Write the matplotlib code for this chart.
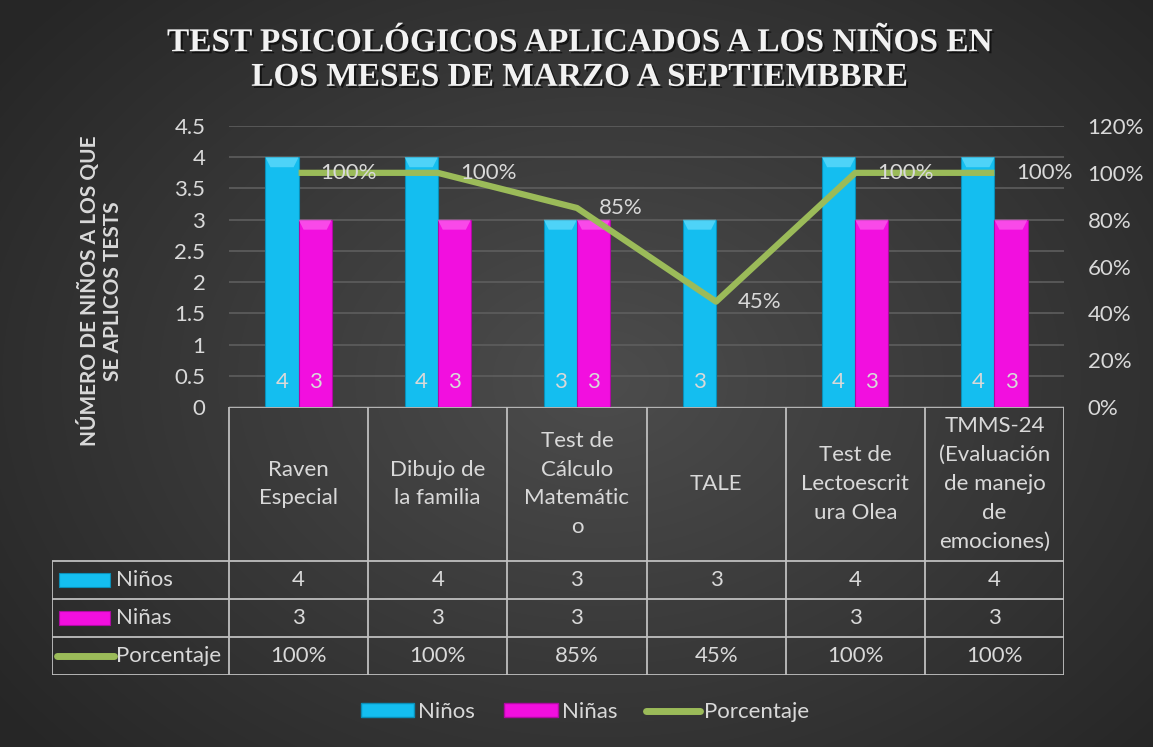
import numpy as np
import matplotlib
matplotlib.use("Agg")
import matplotlib.pyplot as plt
from matplotlib.patches import Rectangle, Patch, Polygon
from matplotlib.lines import Line2D
import matplotlib.patheffects as pe

# ---------------- data ----------------
categories = ["Raven\nEspecial", "Dibujo de\nla familia", "Test de\nCálculo\nMatemátic\no",
              "TALE", "Test de\nLectoescrit\nura Olea",
              "TMMS-24\n(Evaluación\nde manejo\nde\nemociones)"]
ninos = [4, 4, 3, 3, 4, 4]
ninas = [3, 3, 3, np.nan, 3, 3]
porcentaje = [1.00, 1.00, 0.85, 0.45, 1.00, 1.00]
series_names = ["Niños", "Niñas", "Porcentaje"]
title = "TEST PSICOLÓGICOS APLICADOS A LOS NIÑOS EN\nLOS MESES DE MARZO A SEPTIEMBBRE"
ylabel = "NÚMERO DE NIÑOS A LOS QUE\nSE APLICOS TESTS"

# ---------------- style ----------------
W, H = 1153, 747
C_NINO = "#14BEF0"
C_NINA = "#F20FDF"
C_NINO_HI = "#7FE6FF"
C_NINA_HI = "#FF7AF2"
C_NINO_ED = "#0A8FB8"
C_NINA_ED = "#B00AA3"
C_LINE = "#9BBB59"
TXT = "#D9D9D9"
GRID = "#5E5E5E"
TAB = "#BFBFBF"
FS = 16
FONT = ["Lato", "DejaVu Sans"]
plt.rcParams["font.family"] = FONT

fig = plt.figure(figsize=(W / 100, H / 100), dpi=100)

# background radial gradient
bg = fig.add_axes([0, 0, 1, 1], zorder=-10)
yy, xx = np.mgrid[0:H, 0:W]
r = np.sqrt(((xx - 600) / 700.0) ** 2 + ((yy - 380) / 520.0) ** 2)
val = np.clip(0.30 - 0.14 * r, 0.15, 0.32)
bg.imshow(np.dstack([val, val, val]), aspect="auto", extent=[0, 1, 0, 1])
bg.set_axis_off()

# ---------------- main axes ----------------
L, R, T, B = 229, 1064, 126, 407
ax = fig.add_axes([L / W, 1 - B / H, (R - L) / W, (B - T) / H])
ax.set_facecolor("none")
x = np.arange(len(categories))
bw = 0.238
b1 = ax.bar(x - bw / 2, ninos, bw, color=C_NINO, edgecolor=C_NINO_ED, linewidth=0.8, zorder=3)
b2 = ax.bar(x + bw / 2, ninas, bw, color=C_NINA, edgecolor=C_NINA_ED, linewidth=0.8, zorder=3)
ax.set_xlim(-0.5, len(categories) - 0.5)
ax.set_ylim(0, 4.5)

# bevel highlight on bar tops
bx = 5 * (len(categories)) / (R - L)
by = 10 * 4.5 / (B - T)
for bars, hi in ((b1, C_NINO_HI), (b2, C_NINA_HI)):
    for rect in bars:
        h = rect.get_height()
        if np.isnan(h):
            continue
        x0, w = rect.get_x(), rect.get_width()
        ax.add_patch(Polygon([(x0, h), (x0 + w, h), (x0 + w - bx, h - by), (x0 + bx, h - by)],
                             closed=True, facecolor=hi, edgecolor="none", alpha=0.55, zorder=3.5))

ax.set_yticks(np.arange(0, 4.51, 0.5))
ax.set_yticklabels(["0", "0.5", "1", "1.5", "2", "2.5", "3", "3.5", "4", "4.5"])
ax.set_xticks([])
ax.tick_params(axis="y", length=0, pad=17, labelsize=FS, labelcolor=TXT)
for s in ax.spines.values():
    s.set_visible(False)
ax.grid(axis="y", color=GRID, linewidth=1.2, zorder=0)
ax.set_axisbelow(True)

for i in range(len(categories)):
    ax.annotate(f"{ninos[i]:g}", (x[i] - bw / 2, 0), xytext=(0, 25), textcoords="offset pixels",
                ha="center", va="center", color=TXT, fontsize=FS, zorder=5)
    if not np.isnan(ninas[i]):
        ax.annotate(f"{ninas[i]:g}", (x[i] + bw / 2, 0), xytext=(0, 25), textcoords="offset pixels",
                    ha="center", va="center", color=TXT, fontsize=FS, zorder=5)

fig.text(100 / W, 1 - 291 / H, ylabel, rotation=90, ha="center", va="center", color=TXT,
         fontsize=15, fontweight="bold", linespacing=1.15, multialignment="center")

# secondary axis line
ax2 = ax.twinx()
ax2.plot(x, porcentaje, color=C_LINE, linewidth=4.5, solid_capstyle="butt", zorder=4)
ax2.set_ylim(0, 1.2)
ax2.set_yticks(np.arange(0, 1.21, 0.2))
ax2.set_yticklabels([f"{int(round(v * 100))}%" for v in np.arange(0, 1.21, 0.2)])
ax2.tick_params(axis="y", length=0, pad=17, labelsize=FS, labelcolor=TXT)
for s in ax2.spines.values():
    s.set_visible(False)
for i, p in enumerate(porcentaje):
    ax2.annotate(f"{int(round(p * 100))}%", (x[i], p), xytext=(22, 0), textcoords="offset pixels",
                 ha="left", va="center", color=TXT, fontsize=FS, zorder=6)

# ---------------- data table ----------------
TL, TB = 52, 675
tx = fig.add_axes([TL / W, 1 - TB / H, (R - TL) / W, (TB - B) / H])
tx.set_facecolor("none")
upx = 1 / ((R - L) / len(categories))  # category units per pixel
xl = -0.5 - (L - TL) * upx
tx.set_xlim(xl, len(categories) - 0.5)
tx.set_ylim(TB - B, 0)
tx.set_axis_off()
hdr, rh = 154, 38
kw = dict(color=TAB, linewidth=1.3, solid_capstyle="butt")
tx.plot([-0.5, len(categories) - 0.5], [0, 0], **kw)
for yv in [hdr, hdr + rh, hdr + 2 * rh, hdr + 3 * rh]:
    tx.plot([xl, len(categories) - 0.5], [yv, yv], **kw)
for xv in np.arange(-0.5, len(categories), 1.0):
    tx.plot([xv, xv], [0, hdr + 3 * rh], **kw)
tx.plot([xl, xl], [hdr, hdr + 3 * rh], **kw)

for i, c in enumerate(categories):
    tx.text(i, hdr / 2, c, ha="center", va="center", color=TXT, fontsize=FS, linespacing=1.55)
    tx.text(i, hdr + rh / 2, f"{ninos[i]:g}", ha="center", va="center", color=TXT, fontsize=FS)
    if not np.isnan(ninas[i]):
        tx.text(i, hdr + 1.5 * rh, f"{ninas[i]:g}", ha="center", va="center", color=TXT, fontsize=FS)
    tx.text(i, hdr + 2.5 * rh, f"{int(round(porcentaje[i] * 100))}%", ha="center", va="center",
            color=TXT, fontsize=FS)

# legend keys in table
kx0 = xl + 7 * upx
kwid = 51 * upx
tx.add_patch(Rectangle((kx0, hdr + rh / 2 - 7), kwid, 14, facecolor=C_NINO, edgecolor=C_NINO_ED, lw=0.8))
tx.add_patch(Rectangle((kx0, hdr + 1.5 * rh - 7), kwid, 14, facecolor=C_NINA, edgecolor=C_NINA_ED, lw=0.8))
tx.plot([kx0 - 2 * upx, kx0 + 55 * upx], [hdr + 2.5 * rh, hdr + 2.5 * rh], color=C_LINE, lw=5,
        solid_capstyle="round")
for k, nm in enumerate(series_names):
    tx.text(xl + 64 * upx, hdr + (k + 0.5) * rh, nm, ha="left", va="center", color=TXT, fontsize=FS)

# ---------------- title ----------------
fig.text(580 / W, 1 - 60 / H, title, ha="center", va="center", color="#F2F2F2",
         fontsize=24, fontweight="bold", family=["Liberation Serif", "DejaVu Serif"], linespacing=1.15,
         path_effects=[pe.withSimplePatchShadow(offset=(1.5, -1.5), shadow_rgbFace="black", alpha=0.6)])

# ---------------- legend ----------------
handles = [Patch(facecolor=C_NINO, edgecolor=C_NINO_ED), Patch(facecolor=C_NINA, edgecolor=C_NINA_ED),
           Line2D([0], [0], color=C_LINE, lw=5, solid_capstyle="round")]
leg = fig.legend(handles, series_names, loc="center", bbox_to_anchor=(585 / W, 1 - 712 / H), ncol=3,
                 frameon=False, fontsize=FS, labelcolor=TXT, handlelength=2.4, handleheight=0.6,
                 handletextpad=0.2, columnspacing=1.3)

fig.savefig("out.png", dpi=100)
